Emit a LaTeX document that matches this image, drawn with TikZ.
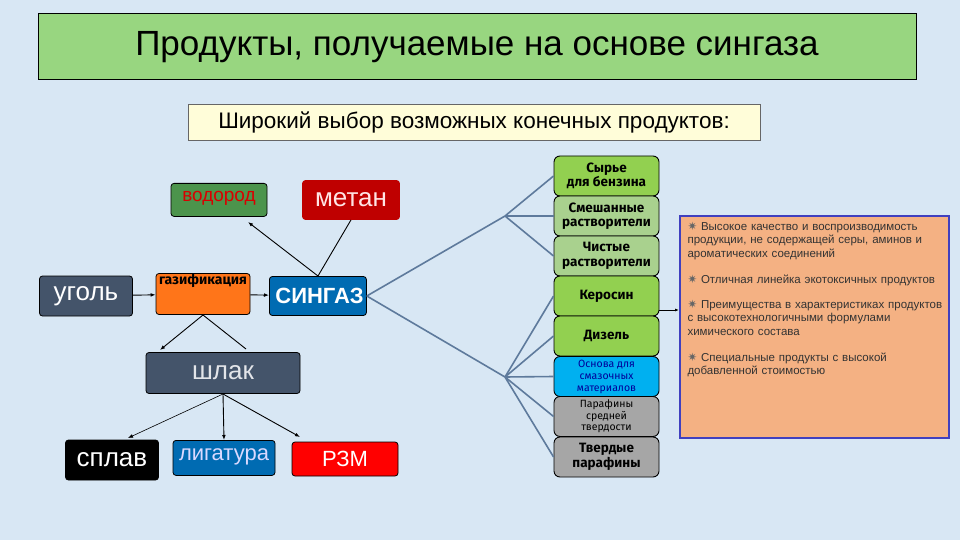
\documentclass[tikz,border=0pt]{standalone}
\usepackage{fontspec}
\setmainfont{Liberation Sans}
\newfontfamily\djvfont{DejaVu Sans}
\newfontfamily\popfont{Fira Sans}
\usetikzlibrary{arrows.meta}
\definecolor{bg}{HTML}{D8E7F4}
\definecolor{slate}{HTML}{44546A}
\definecolor{lg}{HTML}{92D050}
\definecolor{lg2}{HTML}{A9D18E}
\definecolor{cy}{HTML}{00B0F0}
\definecolor{gr}{HTML}{A6A6A6}
\definecolor{og}{HTML}{F4B183}
\definecolor{con}{HTML}{5E7A9C}
\tikzset{
 bx/.style={draw=black,rounded corners=3pt,inner sep=0pt,line width=0.8pt},
 rb/.style={draw=black,rounded corners=6pt,line width=0.9pt,minimum width=105pt,minimum height=40pt,inner sep=0pt,align=center,font=\popfont\bfseries\fontsize{13.5}{14.5}\selectfont},
 ar/.style={-{Latex[length=5pt]},line width=0.9pt},
 fan/.style={draw=con,line width=1.6pt},
 bul/.style={anchor=north west,align=left,text width=255pt,font=\fontsize{11.5}{13.5}\selectfont,text=black!80}
}
\begin{document}
\begin{tikzpicture}[x=1pt,y=-1pt]
\fill[bg] (0,0) rectangle (960,540);
\node[draw=black,fill=lg2!90!green,line width=1pt,minimum width=878pt,minimum height=66pt,font=\fontsize{35}{40}\selectfont] (title) at (477,47) {Продукты, получаемые на основе сингаза};
\node[draw=black!60,fill=yellow!15,minimum width=572pt,minimum height=36pt,font=\fontsize{22.5}{26}\selectfont] (sub) at (474,122) {Широкий выбор возможных конечных продуктов:};
\node[bx,fill=green!40!black!70,text=red!85!black,minimum width=96pt,minimum height=33pt,font=\fontsize{19}{22}\selectfont,anchor=north] (h2) at (219,183) {\raisebox{8pt}{водород}};
\node[bx,fill=red!75!black,draw=red!75!black,text=red!10,minimum width=97pt,minimum height=39pt,font=\fontsize{26}{30}\selectfont] (ch4) at (351,200) {метан};
\node[bx,fill=slate,text=white,minimum width=93pt,minimum height=40pt,font=\fontsize{26}{30}\selectfont] (coal) at (86,296) {уголь};
\node[bx,fill=orange!80!red!90,minimum width=94pt,minimum height=41pt] (gas) at (203,294) {};
\node[anchor=north,font=\popfont\bfseries\fontsize{14}{16}\selectfont,inner sep=1pt] (gast) at (gas.north) {газификация};
\node[bx,fill=blue!40!cyan!70!black,text=white,minimum width=97pt,minimum height=39pt,font=\bfseries\fontsize{22}{26}\selectfont,anchor=west,text width=85pt] (syn) at (269,296) {СИНГАЗ};
\node[bx,fill=slate,text=white!85!slate,minimum width=154pt,minimum height=41pt,font=\fontsize{26}{30}\selectfont] (slag) at (223,373) {шлак};
\node[bx,fill=black,text=white,minimum width=93pt,minimum height=40pt,font=\fontsize{26}{30}\selectfont] (alloy) at (112,460) {сплав};
\node[bx,fill=blue!40!cyan!70!black,text=white!85!blue,minimum width=102pt,minimum height=35pt,font=\fontsize{22}{26}\selectfont,anchor=north] (lig) at (224,440) {\raisebox{6pt}{лигатура}};
\node[bx,fill=red,text=white,minimum width=106pt,minimum height=34pt,font=\fontsize{22}{26}\selectfont] (rzm) at (345,459) {РЗМ};
\draw[ar] (coal) -- (gas);
\draw[ar] (gas) -- (syn);
\coordinate (sN) at (318,276);
\draw[ar] (sN) -- (248,222) coordinate (hE);
\draw[line width=0.9pt] (sN) -- (ch4.south);
\coordinate (gB) at (203,315);
\draw[ar] (gB) -- (160,350) coordinate (e1);
\draw[line width=0.9pt] (gB) -- (246,349) coordinate (e2);
\coordinate (sB) at (223,394);
\draw[ar,line width=0.6pt] (sB) -- (128,438) coordinate (e3);
\draw[ar] (sB) -- (lig.north);
\draw[ar] (sB) -- (300,437) coordinate (e4);
% right stack
\foreach \n/\c/\y/\t in {r1/lg/176/{Сырье\\для бензина}, r2/lg2/216/{Смешанные\\растворители}, r3/lg2/256/{Чистые\\растворители}, r4/lg/296/{Керосин}, r5/lg/336/{Дизель}, r8/gr/457/{Твердые\\парафины}}
  \node[rb,fill=\c] (\n) at (606.5,\y) {\t};
\node[rb,fill=cy,text=blue!60!black,font=\popfont\fontsize{10.5}{12}\selectfont] (r6) at (606.5,376.5) {Основа для\\смазочных\\материалов};
\node[rb,fill=gr,font=\popfont\fontsize{10.5}{11.5}\selectfont] (r7) at (606.5,416.5) {Парафины\\средней\\твердости};
\coordinate (hub1) at (505,216);
\coordinate (hub2) at (505,377);
\draw[fan] (syn.east) -- (hub1); \draw[fan] (syn.east) -- (hub2);
\foreach \n in {r1,r2,r3} \draw[fan] (hub1) -- (\n.west);
\foreach \n in {r4,r5,r6,r7,r8} \draw[fan] (hub2) -- (\n.west);
\node[draw=blue!50!gray,line width=1.5pt,fill=og,minimum width=269pt,minimum height=222pt,anchor=north west] (info) at (679,215) {};
\draw[ar,line width=0.8pt,-{Latex[length=4pt]}] (659,310) -- (info.west |- 0,310);
\node[bul] (b1) at (684,218) {\hangindent=12pt{\djvfont\color{black!60}✷} Высокое качество и воспроизводимость продукции, не содержащей серы, аминов и ароматических соединений};
\node[bul] (b2) at (684,271) {\hangindent=12pt{\djvfont\color{black!60}✷} Отличная линейка экотоксичных продуктов};
\node[bul] (b3) at (684,296) {\hangindent=12pt{\djvfont\color{black!60}✷} Преимущества в характеристиках продуктов с высокотехнологичными формулами химического состава};
\node[bul] (b4) at (684,349) {\hangindent=12pt{\djvfont\color{black!60}✷} Специальные продукты с высокой добавленной стоимостью};
\end{tikzpicture}
\end{document}
